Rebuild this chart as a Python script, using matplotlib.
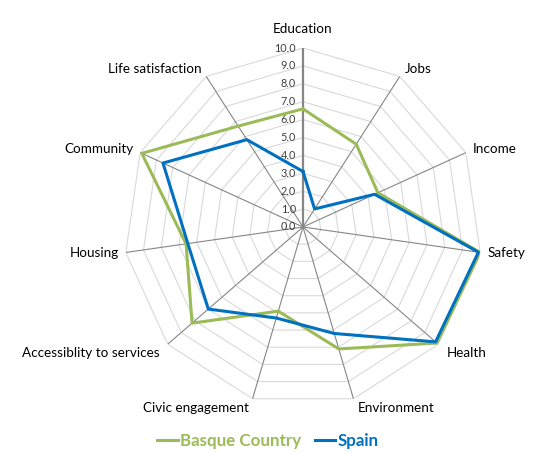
import numpy as np
import matplotlib
matplotlib.use("Agg")
import matplotlib.pyplot as plt

categories = ["Education", "Jobs", "Income", "Safety", "Health", "Environment",
              "Civic engagement", "Accessiblity to services", "Housing",
              "Community", "Life satisfaction"]
basque = [6.6, 5.5, 4.6, 10.0, 9.9, 7.1, 4.9, 8.2, 6.6, 9.9, 6.7]
spain = [3.1, 1.2, 4.4, 9.9, 9.8, 6.2, 5.3, 7.0, 6.5, 8.6, 5.8]
ticks = [0, 1, 2, 3, 4, 5, 6, 7, 8, 9, 10]

plt.rcParams['font.family'] = ['Lato', 'DejaVu Sans']

n = len(categories)
angles = np.linspace(0, 2*np.pi, n, endpoint=False)
closed = np.append(angles, angles[0])

fig = plt.figure(figsize=(5.39, 4.53), dpi=100)
cx, cy = 303/539, 1 - 227/453
rw, rh = 179/539, 179/453
ax = fig.add_axes([cx - rw, cy - rh, 2*rw, 2*rh], projection='polar')
ax.set_theta_offset(np.pi/2)
ax.set_theta_direction(-1)
ax.set_ylim(0, 10)
ax.grid(False)
ax.spines['polar'].set_visible(False)
ax.set_xticks([])
ax.set_yticks([])
ax.patch.set_visible(False)

# polygon gridlines
for r in ticks[1:]:
    ax.plot(closed, [r]*(n+1), color='#d9d9d9', lw=0.8, zorder=1)
# spokes
for i, a in enumerate(angles):
    if i == 0:
        ax.plot([a, a], [0, 10], color='#868686', lw=1.6, zorder=2)
    else:
        ax.plot([a, a], [0, 10], color='#868686', lw=0.8, zorder=2)

# value labels
for r in ticks:
    ax.annotate(f"{r:.1f}", xy=(0, r), xytext=(-5, 0), textcoords='offset points',
                ha='right', va='center', fontsize=7.8, color='#404040')

# category labels, offsets in pixels (dx, dy up)
px = 0.72
offsets = {1: (5, 7), 2: (7, 4), 3: (7, -1), 4: (8, -9)}
for i, (a, lab) in enumerate(zip(angles, categories)):
    if i == 0:
        ha, va, off = 'center', 'bottom', (0, 13)
    elif i in (5, 6):
        ha, va = ('left' if i == 5 else 'right'), 'top'
        off = (4, -3) if i == 5 else (-4, -3)
    else:
        j = i if i < 6 else n - i
        dx, dy = offsets[j]
        if i < 6:
            ha, va, off = 'left', 'center', (dx, dy)
        else:
            ha, va, off = 'right', 'center', (-dx, dy)
    ax.annotate(lab, xy=(a, 10), xytext=(off[0]*px, off[1]*px), textcoords='offset points',
                ha=ha, va=va, fontsize=9.7, color='#000000', annotation_clip=False)

ax.plot(closed, basque + basque[:1], color='#9bbb59', lw=2.2, label='Basque Country', zorder=3)
ax.plot(closed, spain + spain[:1], color='#0070c0', lw=2.2, label='Spain', zorder=4)

leg = fig.legend(loc='center', bbox_to_anchor=(268/539, 1 - 441/453), ncol=2,
                 frameon=False, handlelength=1.2, handletextpad=0.15, columnspacing=0.8,
                 prop={'size': 12.2, 'weight': 'bold'})
for txt, line in zip(leg.get_texts(), leg.get_lines()):
    txt.set_color(line.get_color())

fig.savefig("out.png", dpi=100)
